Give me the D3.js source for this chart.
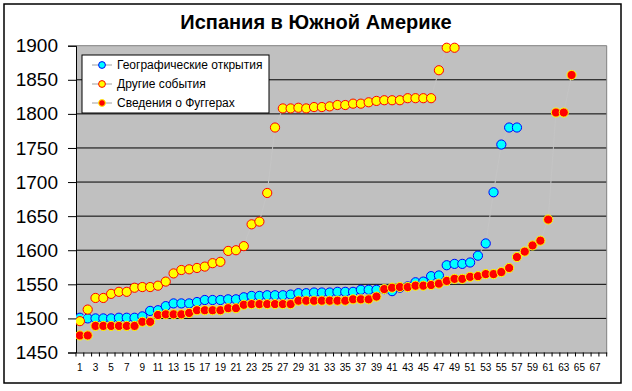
<!DOCTYPE html>
<html>
<head>
<meta charset="utf-8">
<script src="https://cdn.jsdelivr.net/npm/d3@7"></script>
<style>
  body { margin: 0; background: #fff; }
  svg { display: block; font-family: Arial, "Liberation Sans", sans-serif; }
</style>
</head>
<body>
<svg></svg>
<script>
// номера событий по оси X
const categories = [1,2,3,4,5,6,7,8,9,10,11,12,13,14,15,16,17,18,19,20,
  21,22,23,24,25,26,27,28,29,30,31,32,33,34,35,36,37,38,39,40,
  41,42,43,44,45,46,47,48,49,50,51,52,53,54,55,56,57,58,59,60,
  61,62,63,64,65,66,67,68];
const xTickLabels = [1,3,5,7,9,11,13,15,17,19,21,23,25,27,29,31,33,35,37,39,
  41,43,45,47,49,51,53,55,57,59,61,63,65,67];
const yTicks = [1450,1500,1550,1600,1650,1700,1750,1800,1850,1900];

const geoDiscoveries = [1501,1500,1500,1500,1500,1501,1501,1501,1503,1511,
  1512,1518,1522,1522,1522,1524,1527,1527,1527,1528,
  1528,1531,1533,1533,1534,1534,1534,1535,1537,1537,
  1538,1538,1538,1539,1539,1539,1542,1542,1542,1543,
  1540,1545,1547,1553,1554,1562,1563,1578,1580,1580,
  1582,1592,1610,1685,1755,1780,1780];
const otherEvents = [1496,1513,1530,1530,1536,1539,1539,1545,1546,1546,
  1548,1554,1566,1571,1572,1574,1576,1581,1583,1599,
  1600,1606,1638,1642,1684,1780,1808,1808,1809,1808,
  1810,1810,1811,1813,1813,1815,1815,1817,1819,1820,
  1820,1820,1823,1823,1823,1823,1864,1897,1897];
const fuggers = [1475,1475,1489,1489,1489,1489,1489,1489,1495,1495,
  1505,1506,1506,1506,1508,1512,1512,1512,1512,1515,
  1515,1520,1521,1521,1521,1521,1521,1521,1526,1526,
  1526,1526,1526,1526,1526,1528,1528,1528,1532,1543,
  1545,1546,1546,1548,1548,1549,1551,1555,1558,1558,
  1561,1562,1565,1565,1568,1574,1590,1598,1607,1614,
  1645,1802,1802,1857];

const seriesNames = ['Географические открытия', 'Другие события', 'Сведения о Фуггерах'];
const seriesValues = [geoDiscoveries, otherEvents, fuggers];
const seriesFill = ['#00ffff', '#ffff00', '#ff0000'];
const seriesStroke = ['#0000ff', '#ff0000', '#ffff00'];

const svg = d3.select('svg')
  .attr('width', 632)
  .attr('height', 391);

const plot = { left: 76, right: 606.7, top: 45.7, bottom: 352.5 };

const x = d3.scaleBand()
  .domain(categories)
  .range([plot.left, plot.right]);

const y = d3.scaleLinear()
  .domain([1450, 1900])
  .range([plot.bottom, plot.top]);

// рамка диаграммы
svg.append('rect')
  .attr('x', 4).attr('y', 4)
  .attr('width', 617).attr('height', 379)
  .attr('fill', '#fff')
  .attr('stroke', '#000')
  .attr('stroke-width', 1.5);

svg.append('text')
  .attr('x', 316).attr('y', 29)
  .attr('text-anchor', 'middle')
  .attr('font-size', 20)
  .attr('font-weight', 'bold')
  .text('Испания в Южной Америке');

// область построения
svg.append('rect')
  .attr('x', plot.left).attr('y', plot.top)
  .attr('width', plot.right - plot.left)
  .attr('height', plot.bottom - plot.top)
  .attr('fill', '#c0c0c0');

svg.append('g')
  .selectAll('line')
  .data(yTicks.filter(d => d > 1450 && d < 1900))
  .join('line')
    .attr('x1', plot.left).attr('x2', plot.right)
    .attr('y1', d => y(d)).attr('y2', d => y(d))
    .attr('stroke', '#000');

svg.append('path')
  .attr('d', `M${plot.left},${plot.top}H${plot.right}V${plot.bottom}`)
  .attr('fill', 'none')
  .attr('stroke', '#808080');

const yAxis = svg.append('g')
  .attr('transform', `translate(${plot.left},0)`)
  .call(d3.axisLeft(y).tickValues(yTicks).tickSize(8).tickPadding(10).tickFormat(d3.format('d')));
yAxis.select('.domain').attr('stroke', '#000');
yAxis.selectAll('text').attr('font-size', 19).attr('fill', '#000').attr('font-family', 'Arial');

const xAxis = svg.append('g')
  .attr('transform', `translate(0,${plot.bottom})`)
  .call(d3.axisBottom(x).tickValues(xTickLabels).tickSize(0).tickPadding(11));
xAxis.select('.domain').attr('stroke', '#000');
xAxis.selectAll('text').attr('font-size', 10).attr('fill', '#000').attr('font-family', 'Arial');

// засечки между категориями
xAxis.append('g')
  .selectAll('line')
  .data(categories.concat([null]))
  .join('line')
    .attr('x1', (d, i) => plot.left + i * x.bandwidth())
    .attr('x2', (d, i) => plot.left + i * x.bandwidth())
    .attr('y1', 0).attr('y2', 4)
    .attr('stroke', '#000');

const line = d3.line()
  .x((d, i) => x(categories[i]) + x.bandwidth() / 2)
  .y(d => y(d));

svg.append('clipPath').attr('id', 'plot-clip')
  .append('rect')
  .attr('x', plot.left).attr('y', plot.top - 6)
  .attr('width', plot.right - plot.left)
  .attr('height', plot.bottom - plot.top + 6);

seriesValues.forEach((vals, s) => {
  const g = svg.append('g').attr('clip-path', 'url(#plot-clip)');
  g.append('path')
    .attr('d', line(vals))
    .attr('fill', 'none')
    .attr('stroke', '#c4c4c4');
  g.selectAll('circle')
    .data(vals)
    .join('circle')
      .attr('cx', (d, i) => x(categories[i]) + x.bandwidth() / 2)
      .attr('cy', d => y(d))
      .attr('r', 4.6)
      .attr('fill', seriesFill[s])
      .attr('stroke', seriesStroke[s]);
});

// легенда
const legend = svg.append('g');
legend.append('rect')
  .attr('x', 82).attr('y', 55)
  .attr('width', 187).attr('height', 58)
  .attr('fill', '#fff')
  .attr('stroke', '#000');

const item = legend.selectAll('g.item')
  .data(seriesNames)
  .join('g')
    .attr('class', 'item')
    .attr('transform', (d, i) => `translate(0,${65 + i * 19})`);
item.append('line')
  .attr('x1', 92).attr('x2', 112)
  .attr('stroke', '#a0a0a0');
item.append('circle')
  .attr('cx', 102)
  .attr('r', 3.4)
  .attr('fill', (d, i) => seriesFill[i])
  .attr('stroke', (d, i) => seriesStroke[i]);
item.append('text')
  .attr('x', 117)
  .attr('dy', '0.35em')
  .attr('font-size', 12)
  .text(d => d);
</script>
</body>
</html>
